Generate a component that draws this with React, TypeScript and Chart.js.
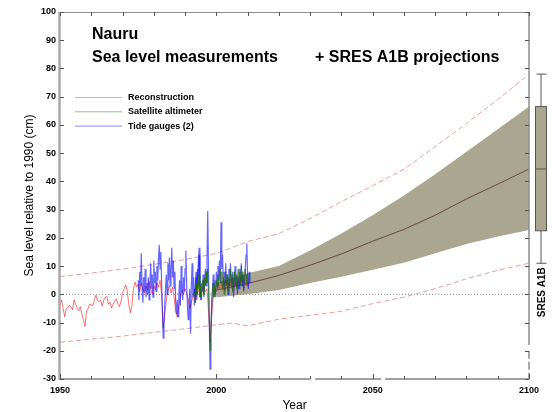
import React, { useEffect, useRef } from "react";
import { Chart, registerables } from "chart.js";

Chart.register(...registerables);

// Axis ranges
const X_MIN = 1950;
const X_MAX = 2100;
const Y_MIN = -30;
const Y_MAX = 100;
const X_MINOR_STEP = 10;
const X_LABEL_STEP = 50;
const Y_STEP = 10;

// Breaks drawn in the bottom axis line (years)
const AXIS_BREAKS = [
  [2030, 2031.6],
  [2052.7, 2054],
];

// Reconstruction (cm), half-yearly from 1950
const RECON_START = 1950;
const RECON_STEP = 0.5;
const RECON_VALUES = [
  -3.8, -2, -5, -7.9, -5, -4.5, -4, -4.5, -5.5, -2,
  -3.5, -5, -5.8, -4.4, -7, -9, -11.4, -5.8, -5, -3.5,
  -3.8, -4, -2, -0.3, -2.3, -2.6, -2, -4.2, -2, -1,
  -0.8, -3.5, -2.8, -4.8, -3.5, -2.5, -1.6, -3.4, -4.4, -2.5,
  0.5, 2, 3.3, 1.2, -3.5, -6.5, -4, 2, 4.3, 2.7,
  3.5, 1, 4, 2, 0.5, 3, 1.5, 4.5, 2, 0,
  3, 1.5, 4, 2.5, 5, 0, -12, -7, -2, 1,
  3, 0.5, 2.5, -1, -6, -8, -4, -1, 1.5, 0,
  2, 0.5, -2, -5, -3, -1, 1, -1.5, 0.5, 2,
  0, 1.5, 3, 1, 2, -6, -17, -8, -1, 2,
  1, 3, 2, 4, 1.5, 3.5, 5, 2, 4, 3,
  5.5, 2.5, 4, 3, 5, 3.5, 6, 4, 5, 3,
  4.5,
];

// Tide gauges (cm), quarterly
const TIDE_STEP = 0.25;
const TIDE_A_START = 1975;
const TIDE_A_VALUES = [
  5, -2, 8, 3, 14.5, 2, -3, 6, 1, 9,
  -1, 4, 0, 6, -2, 3, 11, 2, 7, -1,
  12, 4, 8, 1, 10, 5, 13, 17.5, 9, 15,
  4, -6, -15.5, -11, -4, 2, 7, 0, 11, 5,
  13, 3, 9, 16.5, 6, 12, 2, 8, -3, -7,
  -2, -8, 0, 5, -4, 10, 2, -2, 6, 1,
  9, 15.5, 4, -4, -9, -3, 2, -14, 3, 11,
  -1, 6, -4, 2, 8, -2, 5, 12, 16.5, 3,
  -1,
];
const TIDE_B_START = 1993;
const TIDE_B_VALUES = [
  2, -3, 6, 0, 9, 3, 14, 5, -2, 4,
  1, 7, -1, 5, 9, 3, 12, 29.5, 8, -10,
  -26.5, -15, -5, 2, 7, 0, 5, -1, 8, 3,
  10, 5, 12, 4, 25.5, 9, 14, 3, 8, 1,
  11, 4, 7, 0, 9, 3, 11, 6, 2, 8,
  -1, 5, 10, 3, 7, 0, 6, 2, 9, 4,
  11, 3, 7, 1, 5, 9, 14, 18, 6, 2,
  8, 4,
];

// Satellite altimeter (cm), quarterly from 1993
const SAT_START = 1993;
const SAT_STEP = 0.25;
const SAT_VALUES = [
  1, -3, 4, 0, 6, 2, 7, -1, 3, -2,
  2, 5, 0, 6, 3, 8, 4, 9, 1, -8,
  -20, -12, -3, 1, 4, -1, 3, 0, 5, 2,
  7, 3, 6, 9, 4, 8, 2, 6, 0, 5,
  8, 3, 7, 1, 6, 3, 9, 4, 7, 1,
  5, 8, 3, 7, 2, 6, 9, 4, 8, 3,
  10, 5, 8, 2, 6, 9, 4, 7, 3,
];

// SRES A1B projection: 5-95% range and mean (cm)
const PROJ_YEARS = [2000, 2010, 2020, 2030, 2040, 2050, 2060, 2070, 2080, 2090, 2100];
const PROJ_LOW = [-1, 0, 1.5, 4, 6.2, 8.7, 11.2, 14.5, 17.8, 20.5, 22.8];
const PROJ_MEAN = [1.5, 3.8, 6.7, 10.3, 14.3, 18.8, 23, 28, 33.8, 39, 44.4];
const PROJ_HIGH = [4, 7.5, 10, 15.5, 21.5, 28, 35, 42.5, 50.5, 58.5, 66.5];

// Outer envelope (dashed)
const ENV_YEARS = [1950, 1960, 1970, 1980, 1990, 2000, 2005, 2010, 2020, 2030, 2040, 2050, 2060, 2070, 2080, 2090, 2100];
const ENV_UPPER = [6.3, 7.5, 8.9, 10.6, 12.3, 14.5, 16.5, 18.7, 21.5, 26.8, 32.8, 38.5, 44.3, 52.3, 60.5, 69, 78];
const ENV_LOWER = [-17, -15.9, -14.8, -13.5, -12.2, -10.8, -10.2, -11.2, -8.8, -7.5, -6, -3.3, -1, 2, 5.5, 8.5, 11];

// 2100 range box: whisker low, box low, median, box high, whisker high
const BOX_2100 = [11, 22.5, 44.4, 66.5, 78];

const TITLE_LINES = ["Nauru", "Sea level measurements"];
const TITLE_EXTRA = "+ SRES A1B projections";
const LEGEND_LABELS = ["Reconstruction", "Satellite altimeter", "Tide gauges (2)"];
const BOX_LABEL = "SRES A1B";

const C_RECON = "rgba(255, 20, 20, 0.6)";
const C_SAT = "rgba(30, 110, 0, 0.7)";
const C_TIDE = "rgba(0, 0, 255, 0.6)";
const C_BAND = "#aba68f";
const C_MEAN = "#6b4646";
const C_ENV = "rgba(225, 90, 90, 0.6)";
const LEGEND_COLORS = ["#f6a0a0", "#9cbc8c", "#8c8cff"];

const FONT = "'Liberation Sans', Arial, Helvetica, sans-serif";

const series = (start: number, step: number, values: number[]) =>
  values.map((v, i) => ({ x: start + i * step, y: v }));
const pairs = (xs: number[], ys: number[]) => xs.map((x, i) => ({ x, y: ys[i] }));

const decorations = {
  id: "decorations",
  afterDraw(chart: any) {
    const { ctx, chartArea: a, scales } = chart;
    const x = scales.x;
    const y = scales.y;
    ctx.save();

    // frame
    ctx.lineCap = "butt";
    ctx.strokeStyle = "#8c8c8c";
    ctx.lineWidth = 1;
    ctx.beginPath();
    ctx.moveTo(a.left, a.top + 0.5);
    ctx.lineTo(a.right, a.top + 0.5);
    ctx.stroke();

    // right axis: solid, then broken near the bottom
    ctx.lineWidth = 1.5;
    ctx.beginPath();
    ctx.moveTo(a.right, a.top);
    ctx.lineTo(a.right, y.getPixelForValue(-18));
    ctx.stroke();
    ctx.setLineDash([8, 3]);
    ctx.beginPath();
    ctx.moveTo(a.right, y.getPixelForValue(-20));
    ctx.lineTo(a.right, a.bottom);
    ctx.stroke();
    ctx.setLineDash([]);

    // left axis
    ctx.strokeStyle = "#a8a8a8";
    ctx.lineWidth = 2.5;
    ctx.beginPath();
    ctx.moveTo(a.left - 0.5, a.top);
    ctx.lineTo(a.left - 0.5, a.bottom + 1);
    ctx.stroke();

    // bottom axis with breaks
    ctx.lineWidth = 2;
    ctx.strokeStyle = "#a0a0a0";
    let start = a.left;
    const segs: number[][] = [];
    AXIS_BREAKS.forEach(([b0, b1]) => {
      segs.push([start, x.getPixelForValue(b0)]);
      start = x.getPixelForValue(b1);
    });
    segs.push([start, a.right]);
    segs.forEach(([s, e]) => {
      ctx.beginPath();
      ctx.moveTo(s, a.bottom);
      ctx.lineTo(e, a.bottom);
      ctx.stroke();
    });

    // inward ticks
    ctx.strokeStyle = "#555";
    ctx.lineWidth = 1;
    for (let yr = X_MIN; yr <= X_MAX; yr += X_MINOR_STEP) {
      const px = Math.round(x.getPixelForValue(yr)) + 0.5;
      const major = (yr - X_MIN) % X_LABEL_STEP === 0;
      ctx.beginPath();
      ctx.moveTo(px, a.bottom);
      ctx.lineTo(px, a.bottom - (major ? 5 : 3));
      ctx.moveTo(px, a.top);
      ctx.lineTo(px, a.top + 4);
      ctx.stroke();
    }
    for (let v = Y_MIN; v <= Y_MAX; v += Y_STEP) {
      const py = Math.round(y.getPixelForValue(v)) + 0.5;
      ctx.beginPath();
      ctx.moveTo(a.left, py);
      ctx.lineTo(a.left + 4, py);
      ctx.moveTo(a.right, py);
      ctx.lineTo(a.right - 4, py);
      ctx.stroke();
    }

    // 2100 range box
    const [wLo, bLo, med, bHi, wHi] = BOX_2100.map((v) => y.getPixelForValue(v));
    const bx0 = a.right + 6.5;
    const bx1 = a.right + 17.5;
    const bxc = (bx0 + bx1) / 2;
    ctx.strokeStyle = "#555";
    ctx.lineWidth = 1;
    ctx.beginPath();
    ctx.moveTo(bxc, wHi);
    ctx.lineTo(bxc, bHi);
    ctx.moveTo(bxc, bLo);
    ctx.lineTo(bxc, wLo);
    ctx.moveTo(bx0 + 1, wHi);
    ctx.lineTo(bx1, wHi);
    ctx.moveTo(bx0 + 1, wLo);
    ctx.lineTo(bx1, wLo);
    ctx.stroke();
    ctx.fillStyle = C_BAND;
    ctx.fillRect(bx0, bHi, bx1 - bx0, bLo - bHi);
    ctx.strokeRect(bx0, bHi, bx1 - bx0, bLo - bHi);
    ctx.beginPath();
    ctx.moveTo(bx0, med);
    ctx.lineTo(bx1, med);
    ctx.stroke();

    // rotated scenario label under the box
    ctx.save();
    ctx.translate(bxc + 1, wLo + 29);
    ctx.rotate(-Math.PI / 2);
    ctx.fillStyle = "#000";
    ctx.font = `bold 10px ${FONT}`;
    ctx.textAlign = "center";
    ctx.textBaseline = "middle";
    ctx.fillText(BOX_LABEL, 0, 0);
    ctx.restore();

    // titles
    ctx.fillStyle = "#000";
    ctx.font = `bold 16px ${FONT}`;
    ctx.textAlign = "left";
    ctx.textBaseline = "middle";
    ctx.fillText(TITLE_LINES[0], 92, 35);
    ctx.fillText(TITLE_LINES[1], 92, 58);
    ctx.fillText(TITLE_EXTRA, 315, 58);

    // legend
    ctx.font = `bold 9px ${FONT}`;
    LEGEND_LABELS.forEach((label, i) => {
      const ly = 97.5 + i * 14.3;
      ctx.strokeStyle = LEGEND_COLORS[i];
      ctx.lineWidth = 1;
      ctx.beginPath();
      ctx.moveTo(75, ly);
      ctx.lineTo(122, ly);
      ctx.stroke();
      ctx.fillStyle = "#000";
      ctx.fillText(label, 128, ly);
    });

    ctx.restore();
  },
};

export default function App() {
  const canvasRef = useRef<HTMLCanvasElement | null>(null);

  useEffect(() => {
    if (!canvasRef.current) return;
    const line = (extra: any) => ({
      pointRadius: 0,
      borderWidth: 1,
      tension: 0,
      fill: false,
      ...extra,
    });

    const chart = new Chart(canvasRef.current, {
      type: "line",
      data: {
        datasets: [
          line({
            label: "band-low",
            data: pairs(PROJ_YEARS, PROJ_LOW),
            borderWidth: 0,
            borderColor: "rgba(0,0,0,0)",
            order: 20,
          }),
          line({
            label: "band-high",
            data: pairs(PROJ_YEARS, PROJ_HIGH),
            borderWidth: 0,
            borderColor: "rgba(0,0,0,0)",
            backgroundColor: C_BAND,
            fill: "-1",
            order: 19,
          }),
          line({ label: "mean", data: pairs(PROJ_YEARS, PROJ_MEAN), borderColor: C_MEAN, order: 18 }),
          line({
            label: "zero",
            data: [
              { x: X_MIN, y: 0 },
              { x: X_MAX, y: 0 },
            ],
            borderColor: "#8a8a8a",
            borderDash: [1, 2],
            order: 17,
          }),
          line({ label: "upper", data: pairs(ENV_YEARS, ENV_UPPER), borderColor: C_ENV, borderDash: [5, 3], order: 16 }),
          line({ label: "lower", data: pairs(ENV_YEARS, ENV_LOWER), borderColor: C_ENV, borderDash: [5, 3], order: 15 }),
          line({ label: LEGEND_LABELS[0], data: series(RECON_START, RECON_STEP, RECON_VALUES), borderColor: C_RECON, order: 4 }),
          line({ label: LEGEND_LABELS[2], data: series(TIDE_A_START, TIDE_STEP, TIDE_A_VALUES), borderColor: C_TIDE, borderWidth: 1.2, order: 3 }),
          line({ label: "tide-b", data: series(TIDE_B_START, TIDE_STEP, TIDE_B_VALUES), borderColor: C_TIDE, borderWidth: 1.2, order: 3 }),
          line({ label: LEGEND_LABELS[1], data: series(SAT_START, SAT_STEP, SAT_VALUES), borderColor: C_SAT, order: 2 }),
        ],
      },
      options: {
        responsive: false,
        animation: false,
        devicePixelRatio: 1,
        layout: { padding: { top: 12, right: 23, left: 0, bottom: 0 } },
        plugins: { legend: { display: false }, tooltip: { enabled: false } },
        scales: {
          x: {
            type: "linear",
            min: X_MIN,
            max: X_MAX,
            grid: { display: false, drawTicks: false },
            border: { display: false },
            ticks: {
              stepSize: X_LABEL_STEP,
              padding: 6,
              color: "#000",
              font: { family: FONT, size: 9, weight: "bold" },
              maxRotation: 0,
              callback: (v: any) => String(v),
            },
            title: {
              display: true,
              text: "Year",
              color: "#000",
              font: { family: FONT, size: 12, lineHeight: 1 },
              padding: { top: 0, bottom: 0 },
            },
            afterFit: (s: any) => {
              s.height = 33;
            },
          },
          y: {
            min: Y_MIN,
            max: Y_MAX,
            grid: { display: false, drawTicks: false },
            border: { display: false },
            ticks: {
              stepSize: Y_STEP,
              padding: 4,
              color: "#000",
              font: { family: FONT, size: 9, weight: "bold" },
            },
            title: {
              display: true,
              text: "Sea level relative to 1990 (cm)",
              color: "#000",
              font: { family: FONT, size: 12, lineHeight: 1 },
              padding: { top: 24, bottom: 0 },
            },
            afterFit: (s: any) => {
              s.width = 60;
            },
          },
        },
      },
      plugins: [decorations],
    } as any);

    return () => chart.destroy();
  }, []);

  return (
    <div style={{ position: "fixed", left: 0, top: 0, width: 552, height: 412, background: "#fff" }}>
      <canvas ref={canvasRef} width={552} height={412} style={{ width: 552, height: 412, display: "block" }} />
    </div>
  );
}
